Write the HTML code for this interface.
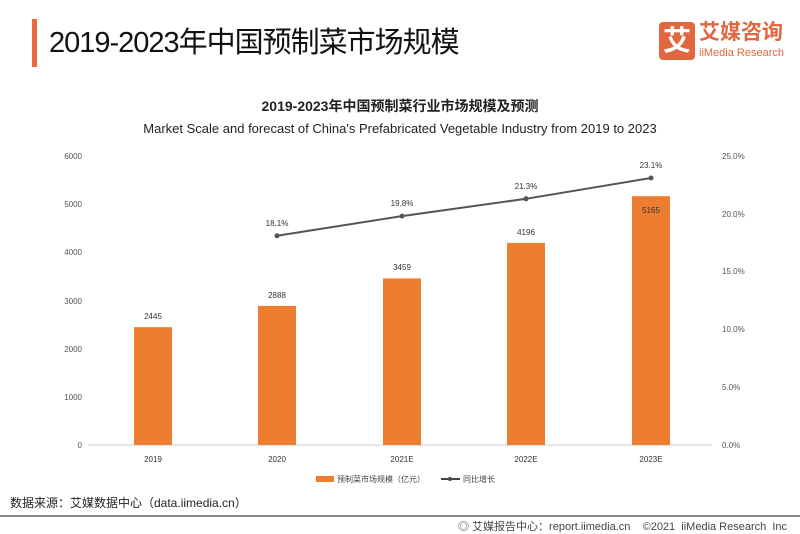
<!DOCTYPE html>
<html><head><meta charset="utf-8"><style>
body{margin:0;width:800px;height:533px;background:#fff;overflow:hidden;font-family:"Liberation Sans","Noto Sans CJK SC",sans-serif;position:relative}
.a{position:absolute;white-space:nowrap}
</style></head><body>
<div class="a" style="left:32px;top:19px;width:5px;height:48px;background:#ee6a3a"></div>
<div class="a" style="left:49px;top:23px;font-size:29px;letter-spacing:-1px;color:#111;line-height:40px">2019-2023年中国预制菜市场规模</div>
<div class="a" style="left:659px;top:22px;width:36px;height:38px;background:#e0673f;border-radius:4px;color:#fff;font-size:28px;line-height:38px;text-align:center;font-weight:bold">艾</div>
<div class="a" style="left:699px;top:20px;font-size:21px;color:#e0673f;font-weight:bold;line-height:26px">艾媒咨询</div>
<div class="a" style="left:699px;top:46px;font-size:11px;color:#e0673f;line-height:14px">iiMedia Research</div>
<div class="a" style="left:0;width:800px;top:96px;text-align:center;font-size:14px;font-weight:bold;color:#222">2019-2023年中国预制菜行业市场规模及预测</div>
<div class="a" style="left:0;width:800px;top:121px;text-align:center;font-size:13px;color:#222">Market Scale and forecast of China's Prefabricated Vegetable Industry from 2019 to 2023</div>
<svg class="a" style="left:0;top:0" width="800" height="533" font-family="Liberation Sans" font-size="8" fill="#555">
<line x1="88" y1="445" x2="712" y2="445" stroke="#ccc"/>
<g text-anchor="end">
<text x="82" y="448">0</text><text x="82" y="400">1000</text><text x="82" y="352">2000</text><text x="82" y="304">3000</text><text x="82" y="255">4000</text><text x="82" y="207">5000</text><text x="82" y="159">6000</text></g>
<g text-anchor="start">
<text x="722" y="448">0.0%</text><text x="722" y="390">5.0%</text><text x="722" y="332">10.0%</text><text x="722" y="274">15.0%</text><text x="722" y="217">20.0%</text><text x="722" y="159">25.0%</text></g>
<g fill="#ed7d31">
<rect x="134" y="327.2" width="38" height="117.8"/>
<rect x="258" y="305.9" width="38" height="139.1"/>
<rect x="383" y="278.4" width="38" height="166.6"/>
<rect x="507" y="242.9" width="38" height="202.1"/>
<rect x="632" y="196.2" width="38" height="248.8"/></g>
<g text-anchor="middle" fill="#333">
<text x="153" y="319">2445</text><text x="277" y="298">2888</text><text x="402" y="270">3459</text><text x="526" y="235">4196</text><text x="651" y="213">5165</text>
<text x="153" y="462">2019</text><text x="277" y="462">2020</text><text x="402" y="462">2021E</text><text x="526" y="462">2022E</text><text x="651" y="462">2023E</text>
<text x="277" y="226">18.1%</text><text x="402" y="206">19.8%</text><text x="526" y="189">21.3%</text><text x="651" y="168">23.1%</text></g>
<polyline points="277,235.8 402,216.1 526,198.8 651,178" fill="none" stroke="#555" stroke-width="2"/>
<g fill="#555"><circle cx="277" cy="235.8" r="2.5"/><circle cx="402" cy="216.1" r="2.5"/><circle cx="526" cy="198.8" r="2.5"/><circle cx="651" cy="178" r="2.5"/></g>
<rect x="316" y="476" width="18" height="6" fill="#ed7d31"/>
<text x="337" y="482" fill="#444">预制菜市场规模（亿元）</text>
<line x1="441" y1="479" x2="460" y2="479" stroke="#444" stroke-width="2"/><circle cx="450" cy="479" r="2" fill="#444"/>
<text x="463" y="482" fill="#444">同比增长</text>
<line x1="0" y1="516" x2="800" y2="516" stroke="#888" stroke-width="2"/>
</svg>
<div class="a" style="left:10px;top:494px;font-size:12px;color:#222">数据来源：艾媒数据中心（data.iimedia.cn）</div>
<div class="a" style="left:458px;top:518px;font-size:11px;color:#444">◎ 艾媒报告中心：report.iimedia.cn &nbsp;&nbsp; ©2021 &nbsp;iiMedia Research &nbsp;Inc</div>
</body></html>
